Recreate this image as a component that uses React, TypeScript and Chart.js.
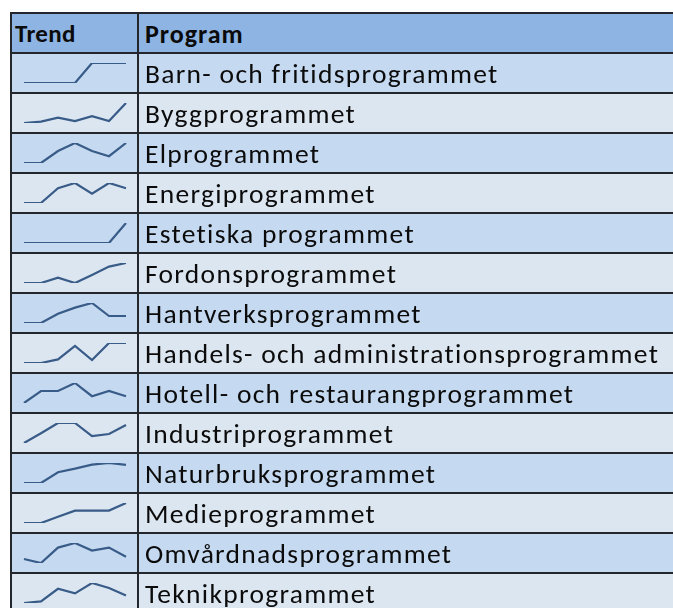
import React, { useEffect, useRef } from "react";
import { Chart, registerables } from "chart.js";

Chart.register(...registerables);

const programs: string[] = [
  "Barn- och fritidsprogrammet",
  "Byggprogrammet",
  "Elprogrammet",
  "Energiprogrammet",
  "Estetiska programmet",
  "Fordonsprogrammet",
  "Hantverksprogrammet",
  "Handels- och administrationsprogrammet",
  "Hotell- och restaurangprogrammet",
  "Industriprogrammet",
  "Naturbruksprogrammet",
  "Medieprogrammet",
  "Omvårdnadsprogrammet",
  "Teknikprogrammet",
];

const periods: string[] = ["1", "2", "3", "4", "5", "6", "7"];

const barn = [0, 0, 0, 0, 1, 1, 1];
const bygg = [0, 0.07, 0.27, 0.1, 0.34, 0.1, 1];
const el = [0, 0, 0.6, 1, 0.6, 0.34, 1];
const energi = [0, 0, 0.74, 1, 0.46, 1, 0.74];
const estetiska = [0, 0, 0, 0, 0, 0, 1];
const fordon = [0, 0, 0.27, 0, 0.4, 0.82, 1];
const hantverk = [0, 0, 0.46, 0.77, 1, 0.35, 0.35];
const handels = [0, 0, 0.18, 0.85, 0.15, 1, 1];
const hotell = [0, 0.6, 0.6, 1, 0.34, 0.6, 0.34];
const industri = [0, 0.49, 1, 1, 0.34, 0.45, 0.9];
const naturbruk = [0, 0, 0.54, 0.72, 0.92, 1, 0.91];
const medie = [0, 0, 0.31, 0.62, 0.62, 0.62, 1];
const omvardnad = [0.2, 0, 0.77, 1, 0.62, 0.77, 0.31];
const teknik = [0, 0.08, 0.71, 0.48, 1, 0.75, 0.37];

const series: number[][] = [
  barn, bygg, el, energi, estetiska, fordon, hantverk,
  handels, hotell, industri, naturbruk, medie, omvardnad, teknik,
];

const FONT = "Carlito, Calibri, Lato, sans-serif";
const BORDER = "2px solid #23262b";

function Spark({ values }: { values: number[] }) {
  const ref = useRef<HTMLCanvasElement | null>(null);
  useEffect(() => {
    if (!ref.current) return;
    const chart = new Chart(ref.current, {
      type: "line",
      data: {
        labels: periods,
        datasets: [
          {
            data: values,
            borderColor: "#385b87",
            borderWidth: 2.2,
            pointRadius: 0,
            tension: 0,
            fill: false,
          },
        ],
      },
      options: {
        responsive: false,
        animation: false,
        devicePixelRatio: 1,
        layout: { padding: { left: 12, right: 11, top: 9, bottom: 9 } },
        plugins: { legend: { display: false }, tooltip: { enabled: false } },
        scales: {
          x: { display: false, offset: false },
          y: { display: false, min: Math.min(...values), max: Math.max(...values) },
        },
      },
    });
    return () => chart.destroy();
  }, [values]);
  return <canvas ref={ref} width={125} height={38} style={{ display: "block" }} />;
}

export default function App() {
  const rowStyle = (bg: string): React.CSSProperties => ({
    display: "flex",
    height: 40,
    boxSizing: "border-box",
    borderTop: BORDER,
    background: bg,
  });
  const textStyle: React.CSSProperties = {
    fontSize: 27.5,
    letterSpacing: "1.3px",
    lineHeight: "38px",
    paddingLeft: 6,
    whiteSpace: "nowrap",
  };
  return (
    <div
      style={{
        position: "absolute",
        left: 10,
        top: 12,
        width: 663,
        height: 596,
        overflow: "hidden",
        borderLeft: BORDER,
        fontFamily: FONT,
        color: "#0b0b0b",
      }}
    >
      <div style={rowStyle("#8db4e2")}>
        <div
          style={{
            width: 122,
            borderRight: BORDER,
            fontWeight: 700,
            fontSize: 25,
            letterSpacing: "0.3px",
            lineHeight: "38px",
            paddingLeft: 3,
            whiteSpace: "nowrap",
          }}
        >
          <span style={{ position: "relative", top: 1 }}>Trend</span>
        </div>
        <div style={{ ...textStyle, fontWeight: 700, fontSize: 26, letterSpacing: "1px" }}>
          <span style={{ position: "relative", top: 1 }}>Program</span>
        </div>
      </div>
      {programs.map((p, i) => (
        <div key={p} style={rowStyle(i % 2 === 0 ? "#c5d9f1" : "#dce6f1")}>
          <div style={{ width: 125, borderRight: BORDER }}>
            <Spark values={series[i]} />
          </div>
          <div style={textStyle}>
            <span style={{ position: "relative", top: 1 }}>{p}</span>
          </div>
        </div>
      ))}
    </div>
  );
}
